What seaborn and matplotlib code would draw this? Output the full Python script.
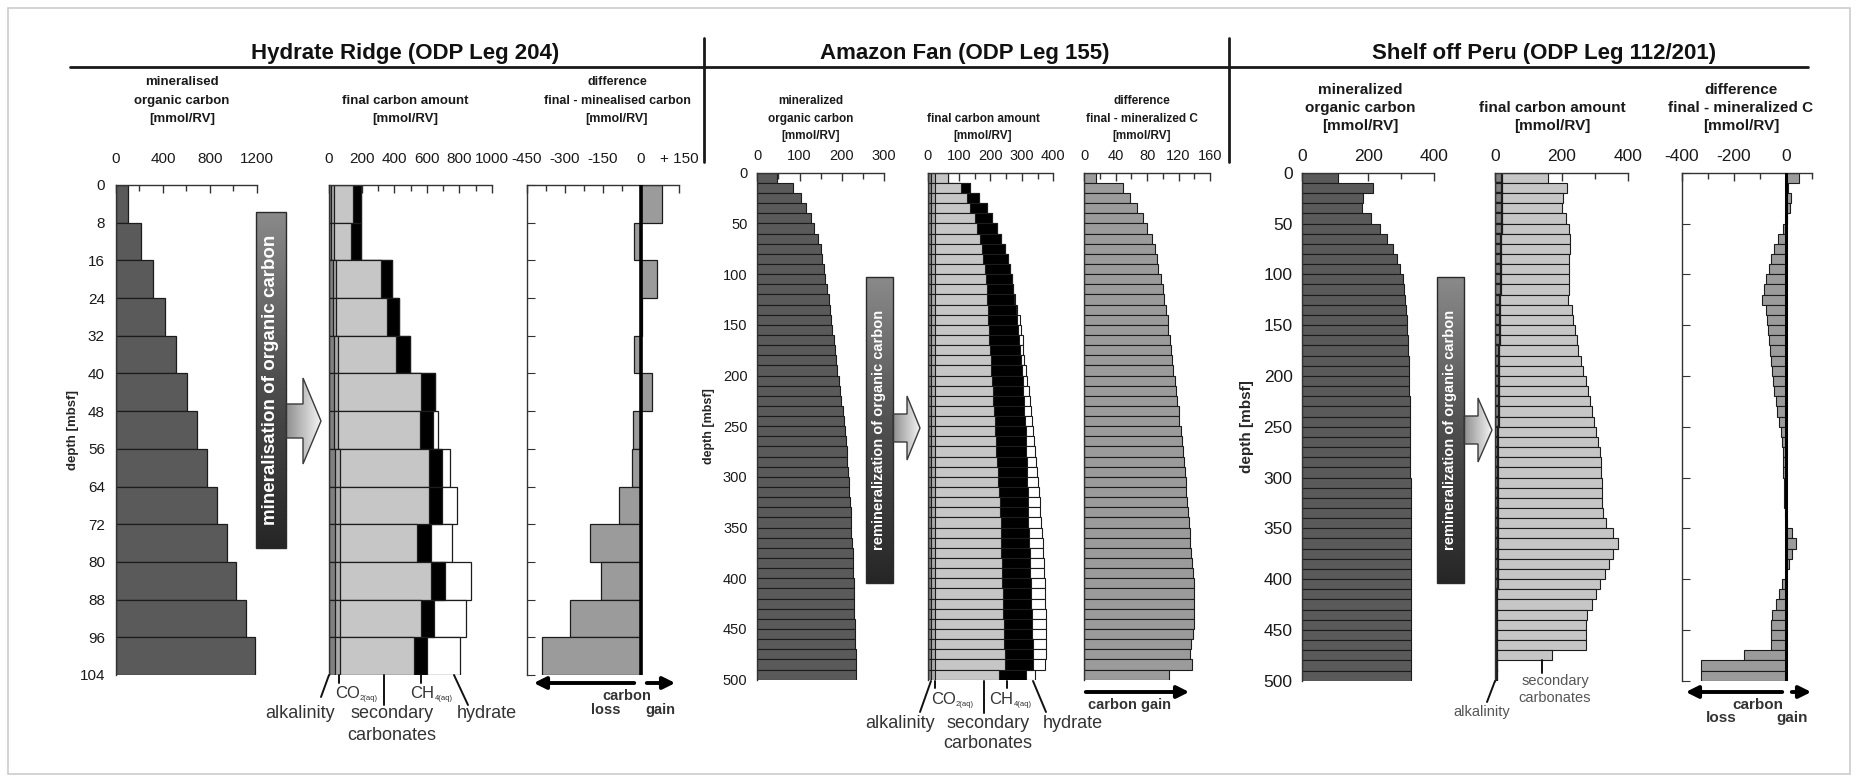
import numpy as np
import pandas as pd
import matplotlib
matplotlib.use('Agg')
import matplotlib.pyplot as plt
import seaborn as sns
from matplotlib.colors import LinearSegmentedColormap
from matplotlib.patches import Polygon, Rectangle

# ---------------- Hydrate Ridge (ODP Leg 204), 8 m rows ----------------
hr_top = [0, 8, 16, 24, 32, 40, 48, 56, 64, 72, 80, 88, 96]
hr_mineral = [100, 210, 315, 413, 510, 603, 690, 774, 862, 945, 1022, 1103, 1180]
hr_alk = [15, 15, 25, 25, 30, 30, 30, 35, 35, 35, 35, 35, 35]
hr_co2 = [15, 15, 20, 20, 25, 25, 25, 30, 30, 30, 30, 30, 30]
hr_carb = [115, 103, 272, 313, 356, 507, 503, 550, 550, 475, 563, 499, 455]
hr_ch4 = [51, 63, 71, 74, 86, 88, 82, 80, 80, 88, 82, 83, 83]
hr_hydrate = [0, 0, 0, 0, 0, 0, 31, 50, 90, 125, 163, 194, 201]
hr_diff = [82, -26, 64, 5, -26, 45, -30, -35, -88, -203, -159, -280, -390]
hr_depth_ticks = [0, 8, 16, 24, 32, 40, 48, 56, 64, 72, 80, 88, 96, 104]

# ---------------- Amazon Fan (ODP Leg 155), 10 m rows ----------------
am_top = list(range(0, 500, 10))
am_mineral = [47, 84, 103, 115, 127, 134, 144, 150, 154, 158,
              161, 166, 169, 172, 175, 178, 181, 184, 187, 189,
              193, 196, 199, 202, 205, 208, 211, 212, 213, 215,
              216, 218, 219, 221, 222, 223, 224, 226, 226, 227,
              228, 229, 230, 230, 231, 232, 232, 233, 233, 234]
am_alk = [10, 10, 10, 10, 10, 10, 10, 10, 10, 10,
          10, 10, 10, 10, 10, 10, 10, 10, 10, 10,
          10, 10, 10, 10, 10, 10, 10, 10, 10, 10,
          10, 10, 10, 10, 10, 10, 10, 10, 10, 10,
          10, 10, 10, 10, 10, 10, 10, 10, 10, 10]
am_co2 = [14, 14, 14, 14, 14, 14, 14, 14, 14, 14,
          14, 14, 14, 14, 14, 14, 14, 14, 14, 14,
          14, 14, 14, 14, 14, 14, 14, 14, 14, 14,
          14, 14, 14, 14, 14, 14, 14, 14, 14, 14,
          14, 14, 14, 14, 14, 14, 14, 14, 14, 14]
am_carb = [42, 81, 102, 111, 127, 134, 143, 148, 153, 158,
           162, 164, 166, 168, 169, 171, 172, 174, 177, 178,
           181, 183, 185, 187, 189, 191, 193, 195, 197, 199,
           201, 203, 205, 206, 208, 209, 210, 211, 212, 213,
           214, 215, 216, 217, 218, 219, 220, 221, 222, 203]
am_ch4 = [0, 30, 38, 53, 55, 62, 66, 74, 78, 80,
          81, 85, 86, 89, 92, 94, 96, 96, 95, 97,
          97, 98, 98, 97, 97, 97, 96, 94, 94, 93,
          92, 91, 90, 90, 89, 89, 90, 90, 90, 90,
          90, 90, 90, 90, 90, 90, 90, 90, 90, 85]
am_hydrate = [0, 0, 0, 0, 0, 0, 0, 0, 0, 0,
              0, 0, 2, 4, 8, 9, 10, 11, 12, 14,
              15, 17, 18, 20, 22, 24, 26, 28, 30, 32,
              34, 36, 38, 39, 40, 41, 42, 43, 44, 44,
              45, 45, 45, 45, 45, 44, 43, 41, 38, 30]
am_diff = [15, 49, 58, 67, 75, 80, 86, 90, 92, 94,
           97, 100, 101, 104, 106, 107, 109, 110, 112, 113,
           115, 117, 118, 120, 121, 123, 124, 126, 127, 128,
           129, 130, 131, 132, 133, 134, 135, 136, 137, 138,
           139, 139, 140, 140, 139, 138, 136, 135, 137, 108]

# ---------------- Shelf off Peru (ODP Leg 112/201), 10 m rows ----------------
pe_top = list(range(0, 500, 10))
pe_mineral = [109, 214, 183, 180, 208, 236, 258, 276, 289, 297,
              305, 309, 313, 315, 317, 319, 321, 322, 323, 324,
              325, 325, 326, 326, 327, 327, 327, 328, 328, 328,
              329, 329, 329, 329, 329, 329, 329, 329, 329, 329,
              329, 330, 330, 330, 330, 330, 330, 330, 330, 330]
pe_alk = [20, 20, 20, 20, 20, 20, 19, 19, 19, 18,
          18, 17, 16, 15, 15, 14, 14, 13, 13, 12,
          12, 12, 11, 11, 11, 10, 10, 10, 10, 9,
          9, 9, 9, 9, 8, 8, 8, 8, 8, 8,
          8, 7, 7, 7, 7, 7, 7, 7, 6, 6]
pe_carb = [140, 197, 185, 180, 193, 203, 206, 206, 204, 205,
           205, 204, 202, 215, 220, 226, 231, 237, 244, 253,
           260, 266, 274, 279, 286, 293, 300, 305, 307, 309,
           311, 311, 313, 314, 325, 347, 362, 347, 335, 322,
           307, 296, 283, 270, 266, 266, 266, 163, 0, 0]
pe_diff = [50, 8, 18, 16, 5, -13, -32, -46, -58, -65,
           -76, -83, -90, -78, -72, -68, -65, -62, -58, -55,
           -51, -46, -40, -33, -26, -20, -15, -13, -11, -10,
           -9, -8, -7, -5, 4, 25, 40, 25, 12, 0,
           -14, -27, -40, -53, -56, -56, -56, -160, -325, -325]
deep_ticks = [0, 50, 100, 150, 200, 250, 300, 350, 400, 450, 500]

# colours
C_MIN = '#5a5a5a'
C_ALK = '#808080'
C_CO2 = '#a9a9a9'
C_CARB = '#c6c6c6'
C_CH4 = '#000000'
C_HYD = '#ffffff'
C_DIFF = '#9b9b9b'
EDGE = '#1c1c1c'

sns.set_style('white')
plt.rcParams['font.family'] = ['Liberation Sans', 'DejaVu Sans']

W, H = 1858, 780
fig = plt.figure(figsize=(W / 100, H / 100), dpi=100)


def add_ax(x0, x1, y0, y1):
    return fig.add_axes([x0 / W, 1 - y1 / H, (x1 - x0) / W, (y1 - y0) / H])


def make_df(top, step, **cols):
    df = pd.DataFrame(cols)
    df['mid'] = np.array(top) + step / 2
    return df


def bars(ax, df, col, color, lw=0.9):
    sns.barplot(data=df, x=col, y='mid', orient='y', native_scale=True,
                width=1, color=color, edgecolor=EDGE, linewidth=lw,
                saturation=1, errorbar=None, ax=ax)


def frame(ax, xlim, ylim, major, labels, minor, fs, pad):
    ax.set_xlim(*xlim)
    ax.set_ylim(*ylim)
    ax.set_xlabel('')
    ax.set_ylabel('')
    ax.set_facecolor('none')
    ax.xaxis.set_ticks_position('top')
    ax.set_xticks(major)
    ax.set_xticklabels(labels)
    ax.set_xticks(minor, minor=True)
    ax.tick_params(axis='x', which='both', direction='in', top=True, bottom=False,
                   labeltop=True, labelbottom=False, labelsize=fs, pad=pad,
                   color='#333333', labelcolor='#1a1a1a', width=1)
    ax.tick_params(axis='x', which='major', length=6)
    ax.tick_params(axis='x', which='minor', length=4)
    for s in ['right', 'bottom']:
        ax.spines[s].set_visible(False)
    for s in ['top', 'left']:
        ax.spines[s].set_color('#333333')
        ax.spines[s].set_linewidth(1)
    ax.set_yticks([])


def depth_labels(ax, ticks, fs, pad, lx, lfs):
    ax.set_yticks(ticks)
    ax.set_yticklabels([str(t) for t in ticks])
    ax.tick_params(axis='y', length=0, labelsize=fs, pad=pad, labelcolor='#1a1a1a')
    ax.set_ylabel('depth [mbsf]', fontsize=lfs, fontweight='bold')
    ax.yaxis.set_label_coords(lx, 0.5)


def left_ticks(ax, ticks):
    ax.set_yticks(ticks)
    ax.set_yticklabels([])
    ax.tick_params(axis='y', direction='in', length=6, color='#333333', left=True)


LAYERS = [('c5', C_HYD), ('c4', C_CH4), ('c3', C_CARB), ('c2', C_CO2), ('c1', C_ALK)]

# ---------------- Hydrate Ridge ----------------
hr = make_df(hr_top, 8, mineral=hr_mineral, alk=hr_alk, co2=hr_co2, carb=hr_carb,
             ch4=hr_ch4, hydrate=hr_hydrate, diff=hr_diff)
hr['c1'] = hr['alk']
hr['c2'] = hr['c1'] + hr['co2']
hr['c3'] = hr['c2'] + hr['carb']
hr['c4'] = hr['c3'] + hr['ch4']
hr['c5'] = hr['c4'] + hr['hydrate']

HY0, HY1 = 185, 675
ax = add_ax(116, 257, HY0, HY1)
bars(ax, hr, 'mineral', C_MIN)
frame(ax, (0, 1200), (104, 0), [0, 400, 800, 1200], ['0', '400', '800', '1200'],
      [200, 600, 1000], 11, 14)
depth_labels(ax, hr_depth_ticks, 11, 8, -0.26, 9.5)

ax = add_ax(329, 492, HY0, HY1)
for col, colr in LAYERS:
    bars(ax, hr, col, colr)
frame(ax, (0, 1000), (104, 0), [0, 200, 400, 600, 800, 1000],
      ['0', '200', '400', '600', '800', '1000'], [100, 300, 500, 700, 900], 11, 14)

ax = add_ax(527, 679, HY0, HY1)
bars(ax, hr, 'diff', C_DIFF)
ax.axvline(0, color='k', lw=2.6, zorder=5)
frame(ax, (-450, 150), (104, 0), [-450, -300, -150, 0, 150],
      ['-450', '-300', '-150', '0', '+ 150'], [-375, -225, -75, 75], 11, 14)
left_ticks(ax, hr_depth_ticks)

# ---------------- Amazon Fan ----------------
am = make_df(am_top, 10, mineral=am_mineral, alk=am_alk, co2=am_co2, carb=am_carb,
             ch4=am_ch4, hydrate=am_hydrate, diff=am_diff)
am['c1'] = am['alk']
am['c2'] = am['c1'] + am['co2']
am['c3'] = am['c2'] + am['carb']
am['c4'] = am['c3'] + am['ch4']
am['c5'] = am['c4'] + am['hydrate']

ax = add_ax(757.3, 884, 172.7, 679.7)
bars(ax, am, 'mineral', C_MIN, 0.8)
frame(ax, (0, 300), (500, 0), [0, 100, 200, 300], ['0', '100', '200', '300'],
      [50, 150, 250], 10.5, 7)
depth_labels(ax, deep_ticks, 10.5, 7, -0.33, 9)

ax = add_ax(927.7, 1053.3, 172.7, 679.7)
for col, colr in LAYERS:
    bars(ax, am, col, colr, 0.8)
frame(ax, (0, 400), (500, 0), [0, 100, 200, 300, 400], ['0', '100', '200', '300', '400'],
      [50, 150, 250, 350], 10.5, 7)

ax = add_ax(1084.3, 1210, 172.7, 679.7)
bars(ax, am, 'diff', C_DIFF, 0.8)
frame(ax, (0, 160), (500, 0), [0, 40, 80, 120, 160], ['0', '40', '80', '120', '160'],
      [20, 60, 100, 140], 10.5, 7)

# ---------------- Shelf off Peru ----------------
pe = make_df(pe_top, 10, mineral=pe_mineral, alk=pe_alk, carb=pe_carb, diff=pe_diff)
pe['c1'] = pe['alk']
pe['c3'] = pe['c1'] + pe['carb']

ax = add_ax(1302.3, 1434, 172.7, 680.7)
bars(ax, pe, 'mineral', C_MIN, 0.8)
frame(ax, (0, 400), (500, 0), [0, 200, 400], ['0', '200', '400'], [100, 300], 12.5, 6)
depth_labels(ax, deep_ticks, 12.5, 7, -0.37, 11)

ax = add_ax(1495, 1628.3, 172.7, 680.7)
bars(ax, pe, 'c3', C_CARB, 0.8)
bars(ax, pe, 'c1', C_ALK, 1.6)
frame(ax, (0, 400), (500, 0), [0, 200, 400], ['0', '200', '400'], [100, 300], 12.5, 6)

ax = add_ax(1681.7, 1812, 172.7, 680.7)
bars(ax, pe, 'diff', C_DIFF, 0.8)
ax.axvline(0, color='k', lw=2.2, zorder=5)
frame(ax, (-400, 100), (500, 0), [-400, -200, 0], ['-400', '-200', '0'],
      [-300, -100, 100], 12.5, 6)
left_ticks(ax, deep_ticks)

# ---------------- overlay: headers, arrows, callouts ----------------
ov = fig.add_axes([0, 0, 1, 1])
ov.axis('off')

bar_cmap = LinearSegmentedColormap.from_list('bar', ['#8a8a8a', '#4e4e4e', '#262626'])
arr_cmap = LinearSegmentedColormap.from_list('arr', ['#8e8e8e', '#f4f4f4'])


def process_arrow(bx0, bx1, by0, by1, tip, back, mid, head, stem, text, fs):
    grad = np.linspace(0, 1, 256).reshape(-1, 1)
    ov.imshow(grad, extent=(bx0, bx1, by1, by0), cmap=bar_cmap, aspect='auto',
              origin='upper', zorder=2)
    ov.add_patch(Rectangle((bx0, by0), bx1 - bx0, by1 - by0, fill=False,
                           ec='#2a2a2a', lw=1, zorder=3))
    ov.text((bx0 + bx1) / 2, (by0 + by1) / 2, text, rotation=90, color='white',
            fontweight='bold', fontsize=fs, ha='center', va='center', zorder=4)
    pts = [(bx1, mid - stem / 2), (back, mid - stem / 2), (back, mid - head / 2),
           (tip, mid), (back, mid + head / 2), (back, mid + stem / 2), (bx1, mid + stem / 2)]
    poly = Polygon(pts, closed=True, fc='none', ec='#3a3a3a', lw=1, zorder=3)
    hgrad = np.linspace(0, 1, 256).reshape(1, -1)
    im = ov.imshow(hgrad, extent=(bx1, tip, mid + head / 2, mid - head / 2),
                   cmap=arr_cmap, aspect='auto', origin='upper', zorder=2)
    ov.add_patch(poly)
    im.set_clip_path(poly)


process_arrow(256, 286, 212, 548, 321, 303, 421, 86, 34,
              'mineralisation of organic carbon', 13.5)
process_arrow(866, 893, 277, 583, 920, 907, 428, 64, 28,
              'remineralization of organic carbon', 10.5)
process_arrow(1437, 1464, 277, 583, 1492, 1478, 430, 64, 28,
              'remineralization of organic carbon', 10.5)

ov.set_xlim(0, W)
ov.set_ylim(H, 0)

# frame and header
ov.add_patch(Rectangle((8, 8), W - 16, H - 14, fill=False, ec='#cccccc', lw=1.2))
ov.plot([70, 1808], [67, 67], color='#1a1a1a', lw=2)
ov.plot([704, 704], [38, 162], color='#1a1a1a', lw=2)
ov.plot([1229, 1229], [38, 162], color='#1a1a1a', lw=2)
ov.text(405, 54, 'Hydrate Ridge (ODP Leg 204)', fontsize=16, fontweight='bold',
        ha='center', va='center', color='#111111')
ov.text(965, 54, 'Amazon Fan (ODP Leg 155)', fontsize=16, fontweight='bold',
        ha='center', va='center', color='#111111')
ov.text(1544, 54, 'Shelf off Peru (ODP Leg 112/201)', fontsize=16, fontweight='bold',
        ha='center', va='center', color='#111111')

# panel subtitles
subs = [
    (182, [82, 101, 119], ['mineralised', 'organic carbon', '[mmol/RV]'], 9.5),
    (405, [101, 119], ['final carbon amount', '[mmol/RV]'], 9.5),
    (617, [82, 101, 119], ['difference', 'final - minealised carbon', '[mmol/RV]'], 9),
    (811, [101, 119, 136], ['mineralized', 'organic carbon', '[mmol/RV]'], 8.5),
    (983, [119, 136], ['final carbon amount', '[mmol/RV]'], 8.5),
    (1142, [101, 119, 136], ['difference', 'final - mineralized C', '[mmol/RV]'], 8.5),
    (1360, [90, 108, 126], ['mineralized', 'organic carbon', '[mmol/RV]'], 11),
    (1552, [108, 126], ['final carbon amount', '[mmol/RV]'], 11),
    (1741, [90, 108, 126], ['difference', 'final - mineralized C', '[mmol/RV]'], 11),
]
for x, ys, lines, fs in subs:
    for y, t in zip(ys, lines):
        ov.text(x, y, t, fontsize=fs, fontweight='bold', ha='center', va='center',
                color='#1a1a1a')

LC = '#111111'
TC = '#333333'


def chem(x, y, base, sub, fs=12):
    ov.text(x, y, base, fontsize=fs, ha='left', va='center', color=TC)
    w = 2.05 * fs
    ov.text(x + w, y + 5, sub, fontsize=5.5, ha='left', va='center', color=TC)


# Hydrate Ridge callouts
ov.plot([329, 321], [HY1, HY1 + 22], color=LC, lw=1.4)
ov.text(300, 714, 'alkalinity', fontsize=13, ha='center', va='center', color=TC)
ov.plot([339.5, 339.5], [HY1, HY1 + 8], color=LC, lw=1.4)
chem(335, 694, 'CO', '2(aq)')
ov.plot([384, 384], [HY1, HY1 + 30], color=LC, lw=1.4)
ov.text(392, 714, 'secondary', fontsize=13, ha='center', va='center', color=TC)
ov.text(392, 735, 'carbonates', fontsize=13, ha='center', va='center', color=TC)
ov.plot([421, 421], [HY1, HY1 + 8], color=LC, lw=1.4)
chem(410, 693, 'CH', '4(aq)')
ov.plot([454, 468], [HY1, HY1 + 30], color=LC, lw=1.4)
ov.text(487, 714, 'hydrate', fontsize=13, ha='center', va='center', color=TC)

ov.annotate('', xy=(531, 683), xytext=(637, 683),
            arrowprops=dict(arrowstyle='-|>', lw=2.8, color='k', mutation_scale=18))
ov.annotate('', xy=(678, 683), xytext=(644, 683),
            arrowprops=dict(arrowstyle='-|>', lw=2.8, color='k', mutation_scale=18))
ov.text(627, 696, 'carbon', fontsize=10.5, fontweight='bold', ha='center', va='center', color=TC)
ov.text(606, 710, 'loss', fontsize=10.5, fontweight='bold', ha='center', va='center', color=TC)
ov.text(660, 710, 'gain', fontsize=10.5, fontweight='bold', ha='center', va='center', color=TC)

# Amazon Fan callouts
ov.plot([931, 920], [681, 712], color=LC, lw=1.4)
ov.text(900, 723, 'alkalinity', fontsize=13, ha='center', va='center', color=TC)
ov.plot([935.5, 935.5], [681, 688], color=LC, lw=1.4)
chem(931, 700, 'CO', '2(aq)')
ov.plot([984, 984], [681, 713], color=LC, lw=1.4)
ov.text(988, 723, 'secondary', fontsize=13, ha='center', va='center', color=TC)
ov.text(988, 744, 'carbonates', fontsize=13, ha='center', va='center', color=TC)
ov.plot([1007, 1007], [681, 688], color=LC, lw=1.4)
chem(989, 700, 'CH', '4(aq)')
ov.plot([1033, 1046], [681, 712], color=LC, lw=1.4)
ov.text(1073, 723, 'hydrate', fontsize=13, ha='center', va='center', color=TC)
ov.annotate('', xy=(1192, 692), xytext=(1083, 692),
            arrowprops=dict(arrowstyle='-|>', lw=2.8, color='k', mutation_scale=18))
ov.text(1130, 705, 'carbon gain', fontsize=10.5, fontweight='bold', ha='center',
        va='center', color=TC)

# Peru callouts
ov.plot([1495, 1487], [681, 702], color=LC, lw=1.4)
ov.text(1482, 712, 'alkalinity', fontsize=10.5, ha='center', va='center', color='#555555')
ov.plot([1542, 1542], [660, 673], color=LC, lw=1.4)
ov.text(1555, 681, 'secondary', fontsize=10.5, ha='center', va='center', color='#555555')
ov.text(1555, 698, 'carbonates', fontsize=10.5, ha='center', va='center', color='#555555')
ov.annotate('', xy=(1683, 692), xytext=(1785, 692),
            arrowprops=dict(arrowstyle='-|>', lw=2.8, color='k', mutation_scale=18))
ov.annotate('', xy=(1814, 692), xytext=(1789, 692),
            arrowprops=dict(arrowstyle='-|>', lw=2.8, color='k', mutation_scale=18))
ov.text(1758, 705, 'carbon', fontsize=11, fontweight='bold', ha='center', va='center', color=TC)
ov.text(1721, 718, 'loss', fontsize=11, fontweight='bold', ha='center', va='center', color=TC)
ov.text(1792, 718, 'gain', fontsize=11, fontweight='bold', ha='center', va='center', color=TC)

fig.savefig('out.png', dpi=100, facecolor='white')
